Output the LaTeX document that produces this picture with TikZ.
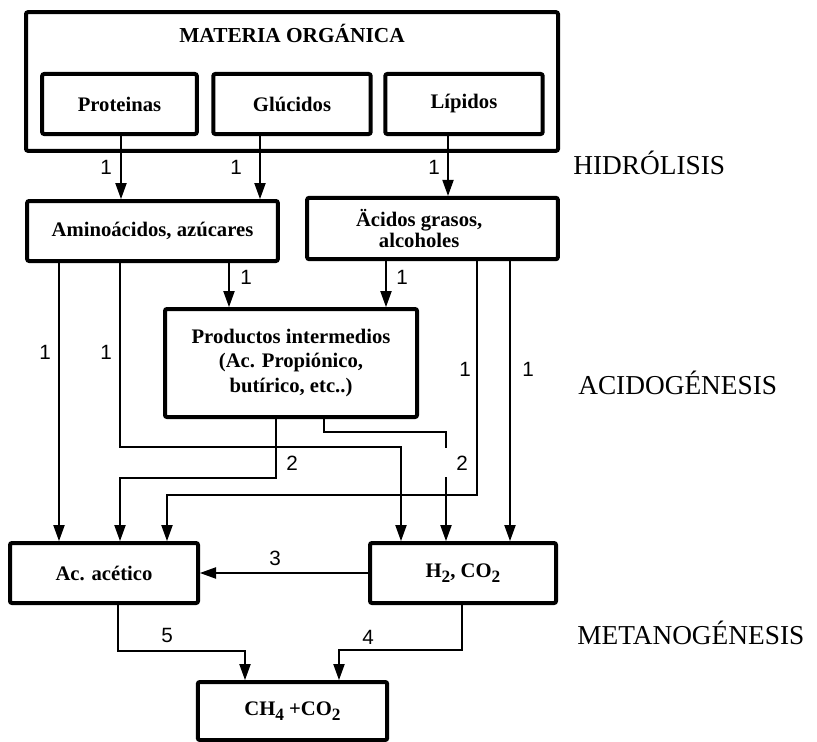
\documentclass[tikz,border=0pt]{standalone}
\usepackage{fontspec}
\setmainfont{Liberation Serif}
\setsansfont{Liberation Sans}
\usepackage{tikz}
\usetikzlibrary{arrows.meta}
\newcommand{\msub}[1]{\raisebox{-0.55ex}{\fontsize{13}{13}\selectfont #1}}

\begin{document}
\begin{tikzpicture}[x=0.75pt,y=-0.75pt,
    box/.style={draw,line width=3pt,rounded corners=1.5pt,inner sep=0pt,align=center,
                font=\fontsize{15.5}{18.5}\selectfont\bfseries},
    num/.style={font=\sffamily\fontsize{15.5}{16}\selectfont,inner sep=0pt},
    phase/.style={anchor=west,inner sep=0pt,font=\fontsize{20.5}{22}\selectfont},
    con/.style={line width=0.8pt},
    arr/.style={con,-{Triangle[length=12pt,width=8.5pt]}}
  ]
    \useasboundingbox (0,0) rectangle (817,742);

    \node (mo)    [box,minimum width=399pt,minimum height=104pt] at (292,81.5) {};
    \node (mot)   [font=\fontsize{16}{18}\selectfont\bfseries,inner sep=0pt] at (292,33) {MATERIA ORGÁNICA};
    \node (prot)  [box,minimum width=116pt,minimum height=45pt] at (119.5,104) {Proteinas};
    \node (gluc)  [box,minimum width=118pt,minimum height=45pt] at (292,104) {Glúcidos};
    \node (lip)   [box,minimum width=118pt,minimum height=45pt] at (464,104) {Lípidos};
    \node (amino) [box,minimum width=188pt,minimum height=45pt] at (152.5,231) {Aminoácidos, azúcares};
    \node (acid)  [box,minimum width=188pt,minimum height=46pt,
                   font=\fontsize{15.5}{16}\selectfont\bfseries] at (432.5,228.5) {Äcidos grasos,\hspace*{20pt}\\alcoholes\hspace*{20pt}};
    \node (prod)  [box,minimum width=189pt,minimum height=81pt] at (291,363)
                  {Productos intermedios\\(Ac. Propiónico,\\butírico, etc..)};
    \node (acet)  [box,minimum width=141pt,minimum height=45pt] at (104,573) {Ac. acético};
    \node (htwo)  [box,minimum width=139.5pt,minimum height=45pt] at (463,573) {H\msub{2}, CO\msub{2}};
    \node (meth)  [box,minimum width=142pt,minimum height=43.5pt] at (292.5,711) {CH\msub{4} +CO\msub{2}};

    % phases
    \node (hid)  [phase] at (573,163) {HIDRÓLISIS};
    \node (acg)  [phase] at (578,383) {ACIDOGÉNESIS};
    \node (met)  [phase] at (577,633) {METANOGÉNESIS};

    % hidrolisis
    \draw[arr] (prot.south -| 121,0) -- (amino.north -| 121,0);
    \draw[arr] (gluc.south -| 260,0) -- (amino.north -| 260,0);
    \draw[arr] (lip.south -| 448,0)  -- (acid.north -| 448,0);
    \node (n1) [num] at (106,167) {1};
    \node (n2) [num] at (236,167) {1};
    \node (n3) [num] at (434,167) {1};

    % acidogenesis
    \draw[arr] (amino.south -| 229,0) -- (prod.north -| 229,0);
    \draw[arr] (acid.south -| 386,0)  -- (prod.north -| 386,0);
    \draw[arr] (amino.south -| 59,0)  -- (acet.north -| 59,0);
    \draw[arr] (amino.south -| 120,0) -- (120,447) -- (401,447) -- (htwo.north -| 401,0);
    \draw[arr] (acid.south -| 477,0)  -- (477,495) -- (167,495) -- (acet.north -| 167,0);
    \draw[arr] (acid.south -| 510,0)  -- (htwo.north -| 510,0);
    \draw[arr] (prod.south -| 276,0)  -- (276,478) -- (120,478) -- (acet.north -| 120,0);
    \coordinate (g1) at (446,448);
    \coordinate (g2) at (446,477);
    \draw[con] (prod.south -| 324,0) -- (324,432) -- (446,432) -- (g1);
    \draw[arr] (g2) -- (htwo.north -| 446,0);
    \node (n4) [num] at (246,277) {1};
    \node (n5) [num] at (402,277) {1};
    \node (n6) [num] at (45,352)  {1};
    \node (n7) [num] at (106,352) {1};
    \node (n8) [num] at (465,369) {1};
    \node (n9) [num] at (528,369) {1};
    \node (n10) [num] at (292,463) {2};
    \node (n11) [num] at (462,463) {2};

    % metanogenesis
    \draw[arr] (htwo.west) -- (acet.east);
    \draw[arr] (acet.south -| 118,0) -- (118,651) -- (245,651) -- (meth.north -| 245,0);
    \draw[arr] (htwo.south -| 462,0) -- (462,650) -- (339,650) -- (meth.north -| 339,0);
    \node (n12) [num] at (275,558) {3};
    \node (n13) [num] at (368,637) {4};
    \node (n14) [num] at (167,635) {5};
\end{tikzpicture}
\end{document}
